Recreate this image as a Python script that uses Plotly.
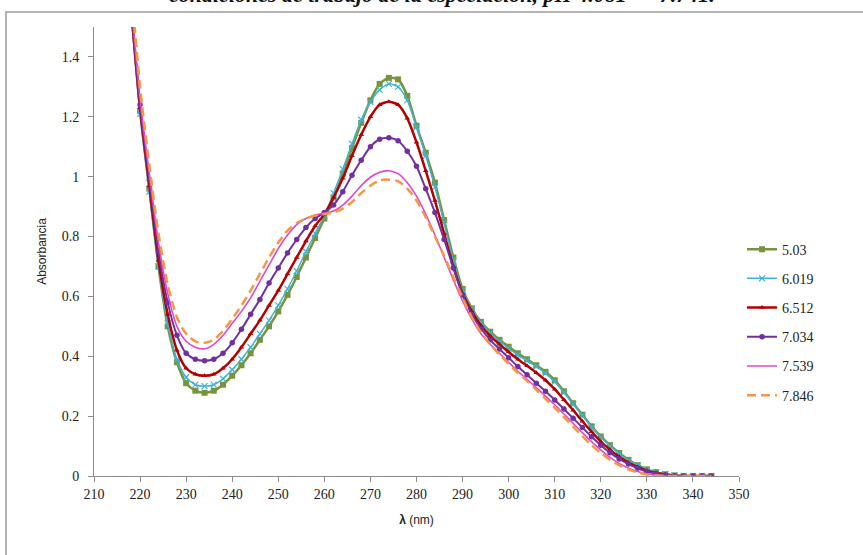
import plotly.graph_objects as go

wavelength = list(range(218, 346, 2))

ph_labels = ["5.03", "6.019", "6.512", "7.034", "7.539", "7.846"]

abs_503 = [1.58,1.22,0.96,0.70,0.50,0.38,0.31,0.285,0.278,0.285,0.305,0.335,0.37,0.41,0.455,0.50,
           0.55,0.605,0.665,0.73,0.795,0.86,0.93,1.01,1.095,1.18,1.255,1.31,1.33,1.325,1.27,1.17,
           1.08,0.98,0.855,0.73,0.625,0.56,0.515,0.482,0.455,0.432,0.41,0.39,0.37,0.348,0.32,0.283,
           0.243,0.205,0.166,0.132,0.103,0.077,0.054,0.036,0.022,0.013,0.006,0.002,0,0,0,0]
abs_6019 = [1.56,1.21,0.95,0.70,0.51,0.39,0.33,0.305,0.30,0.305,0.325,0.355,0.39,0.43,0.475,0.52,
            0.57,0.625,0.685,0.75,0.81,0.87,0.945,1.025,1.11,1.19,1.25,1.29,1.31,1.30,1.255,1.165,
            1.07,0.965,0.845,0.72,0.62,0.558,0.512,0.478,0.45,0.426,0.404,0.385,0.366,0.343,0.315,0.279,
            0.24,0.202,0.163,0.13,0.10,0.075,0.052,0.035,0.021,0.012,0.006,0.002,0,0,0,0]
abs_6512 = [1.57,1.23,0.97,0.72,0.54,0.42,0.36,0.34,0.335,0.34,0.36,0.39,0.43,0.475,0.52,0.57,
            0.62,0.675,0.73,0.785,0.835,0.875,0.93,0.995,1.07,1.14,1.20,1.24,1.25,1.24,1.195,1.115,
            1.02,0.92,0.81,0.70,0.61,0.55,0.503,0.468,0.44,0.414,0.39,0.368,0.345,0.32,0.29,0.255,
            0.22,0.183,0.148,0.115,0.088,0.064,0.045,0.03,0.018,0.01,0.005,0.001,0,0,0,0]
abs_7034 = [1.58,1.24,0.99,0.75,0.58,0.47,0.41,0.39,0.385,0.39,0.41,0.445,0.49,0.54,0.59,0.645,
            0.695,0.745,0.79,0.83,0.86,0.88,0.905,0.95,1.005,1.055,1.10,1.125,1.13,1.12,1.085,1.035,
            0.96,0.88,0.79,0.695,0.605,0.54,0.492,0.455,0.424,0.395,0.366,0.338,0.31,0.283,0.254,0.224,
            0.193,0.162,0.131,0.103,0.078,0.057,0.04,0.026,0.015,0.008,0.003,0.001,0,0,0,0]
abs_7539 = [1.60,1.26,1.01,0.78,0.61,0.50,0.45,0.43,0.425,0.44,0.47,0.51,0.55,0.595,0.65,0.705,
            0.76,0.805,0.84,0.86,0.872,0.878,0.885,0.905,0.935,0.97,0.998,1.015,1.02,1.01,0.98,0.935,
            0.875,0.805,0.73,0.655,0.585,0.525,0.475,0.44,0.41,0.38,0.35,0.323,0.295,0.267,0.238,0.207,
            0.176,0.145,0.115,0.087,0.062,0.042,0.026,0.015,0.007,0.003,0.001,0,0,0,0,0]
abs_7846 = [1.65,1.30,1.04,0.81,0.64,0.53,0.475,0.45,0.445,0.455,0.485,0.525,0.57,0.62,0.675,0.73,
            0.78,0.82,0.845,0.86,0.87,0.875,0.88,0.893,0.915,0.945,0.97,0.988,0.99,0.985,0.96,0.92,
            0.865,0.80,0.735,0.665,0.595,0.53,0.48,0.44,0.405,0.375,0.345,0.317,0.288,0.258,0.228,0.197,
            0.165,0.133,0.103,0.077,0.054,0.036,0.022,0.012,0.005,0.002,0,0,0,0,0,0]

series = [abs_503, abs_6019, abs_6512, abs_7034, abs_7539, abs_7846]

styles = [
    dict(color="#77933C", width=2.5, dash="solid", mode="lines+markers",
         marker=dict(symbol="square", size=6, color="#77933C")),
    dict(color="#3FB3D3", width=1.5, dash="solid", mode="lines+markers",
         marker=dict(symbol="x-thin", size=6, line=dict(width=1.2, color="#3FB3D3"))),
    dict(color="#B30000", width=2.5, dash="solid", mode="lines+markers",
         marker=dict(symbol="triangle-up", size=5, color="#B30000")),
    dict(color="#7030A0", width=2, dash="solid", mode="lines+markers",
         marker=dict(symbol="circle", size=5.5, color="#7030A0")),
    dict(color="#E048C8", width=1.6, dash="solid", mode="lines", marker=None),
    dict(color="#F79646", width=2.5, dash="9px,5px", mode="lines", marker=None),
]

fig = go.Figure()
for i, (lab, ys, st) in enumerate(zip(ph_labels, series, styles)):
    assert len(ys) == len(wavelength)
    kw = dict(x=wavelength, y=ys, name=lab, mode=st["mode"], legendgroup=lab,
              line=dict(color=st["color"], width=st["width"], dash=st["dash"],
                        shape="spline", smoothing=0.7))
    if st["marker"] is not None:
        kw["marker"] = st["marker"]
    fig.add_trace(go.Scatter(**kw))

axis_color = "#8C8C8C"
fig.update_layout(
    width=863, height=555,
    margin=dict(l=94, r=124, t=27, b=79),
    paper_bgcolor="white", plot_bgcolor="white",
    showlegend=True,
    legend=dict(x=1.0047, y=0.54, xanchor="left", yanchor="top",
                font=dict(family="Liberation Serif", size=14, color="#222"),
                traceorder="grouped", tracegroupgap=8, itemwidth=30,
                bgcolor="rgba(0,0,0,0)"),
    xaxis=dict(range=[210, 350], tickmode="linear", tick0=210, dtick=10,
               showgrid=False, zeroline=False, showline=True, linecolor=axis_color,
               linewidth=1, ticks="outside", ticklen=5, tickcolor=axis_color,
               tickfont=dict(family="Liberation Serif", size=14, color="#222"),
               title=dict(text="<b>λ</b> (nm)", font=dict(family="Liberation Sans", size=12, color="#222"),
                          standoff=14)),
    yaxis=dict(range=[0, 1.5], tickmode="array",
               tickvals=[0, 0.2, 0.4, 0.6, 0.8, 1, 1.2, 1.4],
               ticktext=["0", "0.2", "0.4", "0.6", "0.8", "1", "1.2", "1.4"],
               showgrid=False, zeroline=False, showline=True, linecolor=axis_color,
               linewidth=1, ticks="outside", ticklen=5, tickcolor=axis_color,
               ticklabelstandoff=6,
               tickfont=dict(family="Liberation Serif", size=14, color="#222"),
               title=dict(text="Absorbancia", font=dict(family="Liberation Sans", size=12, color="#222"),
                          standoff=12)),
)

# outer chart frame
fig.add_shape(type="rect", xref="paper", yref="paper",
              x0=-0.1364, x1=1.3, y0=-0.3, y1=1.0334,
              line=dict(color="#9A9A9A", width=1.5), fillcolor="rgba(0,0,0,0)", layer="below")

# cut-off document caption above the chart (partly outside the page, as in the reference)
fig.add_annotation(xref="paper", yref="paper", x=0.54, y=1.04, xanchor="center", yanchor="bottom",
                   text="<b><i>condiciones de trabajo de la especiación, pH 4.081 — 7.741.</i></b>",
                   showarrow=False, font=dict(family="Liberation Serif", size=22, color="#111"))

fig.write_html("out.html")
